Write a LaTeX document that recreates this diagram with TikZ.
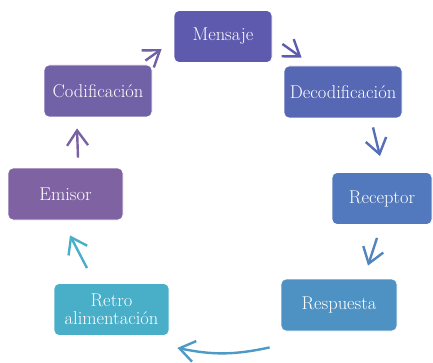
\documentclass[tikz,border=0pt]{standalone}
\usepackage{fontspec}
\usetikzlibrary{arrows.meta}

\definecolor{cMen}{HTML}{5E5BAE}
\definecolor{cCod}{HTML}{7161A7}
\definecolor{cDec}{HTML}{5667B4}
\definecolor{cEmi}{HTML}{7F62A1}
\definecolor{cRec}{HTML}{5279BD}
\definecolor{cRes}{HTML}{4E92C4}
\definecolor{cRet}{HTML}{49AEC8}

\begin{document}
\begin{tikzpicture}[x=1pt,y=1pt]

    \tikzstyle{box}=[rectangle, rounded corners=5pt, draw=white, line width=0.8pt,
        text=white, align=center, minimum height=52pt, inner sep=2pt,
        font=\fontsize{18.5}{17.5}\selectfont]
    \tikzstyle{arr}=[line width=2.4pt, -{Straight Barb[length=15pt,width=21pt,line width=2.4pt]}]

    \useasboundingbox (0,0) rectangle (433,362);

    \node[box, fill=cMen, minimum width=98pt]  (Men) at (223,325.5) {Mensaje};
    \node[box, fill=cCod, minimum width=108pt] (Cod) at (98,271) {Codificación};
    \node[box, fill=cDec, minimum width=118pt] (Dec) at (343,270) {Decodificación};
    \node[box, fill=cEmi, minimum width=115pt] (Emi) at (65.5,168) {Emisor};
    \node[box, fill=cRec, minimum width=100pt] (Rec) at (382,163.5) {Receptor};
    \node[box, fill=cRes, minimum width=116pt] (Res) at (339,57) {Respuesta};
    \node[box, fill=cRet, minimum width=115pt] (Ret) at (111.5,52.5) {Retro\\alimentación};

    % cycle
    \draw[arr, color=cCod!90!cMen] ([shift={(-7,4)}]Cod.north east) -- ([shift={(-12,-12.5)}]Men.west);
    \draw[arr, color=cMen!80!cDec] ([shift={(10,-7.5)}]Men.east) -- ([shift={(18,8)}]Dec.north west);
    \draw[arr, color=cDec!60!cRec] ([shift={(30,-9)}]Dec.south) -- ([shift={(-2,16)}]Rec.north);
    \draw[arr, color=cRec!50!cRes] ([shift={(-5,-13)}]Rec.south) -- ([shift={(29,13)}]Res.north);
    \draw[arr, color=cRes!70!cRet] ([shift={(-11,-16)}]Res.south west) to[bend left=12] ([shift={(8,-12)}]Ret.south east);
    \draw[arr, color=cRet] ([shift={(-24.5,15)}]Ret.north) -- ([shift={(4.5,-15)}]Emi.south);
    \draw[arr, color=cEmi!60!cCod] ([shift={(12.5,10)}]Emi.north) -- ([shift={(-21,-11)}]Cod.south);

\end{tikzpicture}
\end{document}
